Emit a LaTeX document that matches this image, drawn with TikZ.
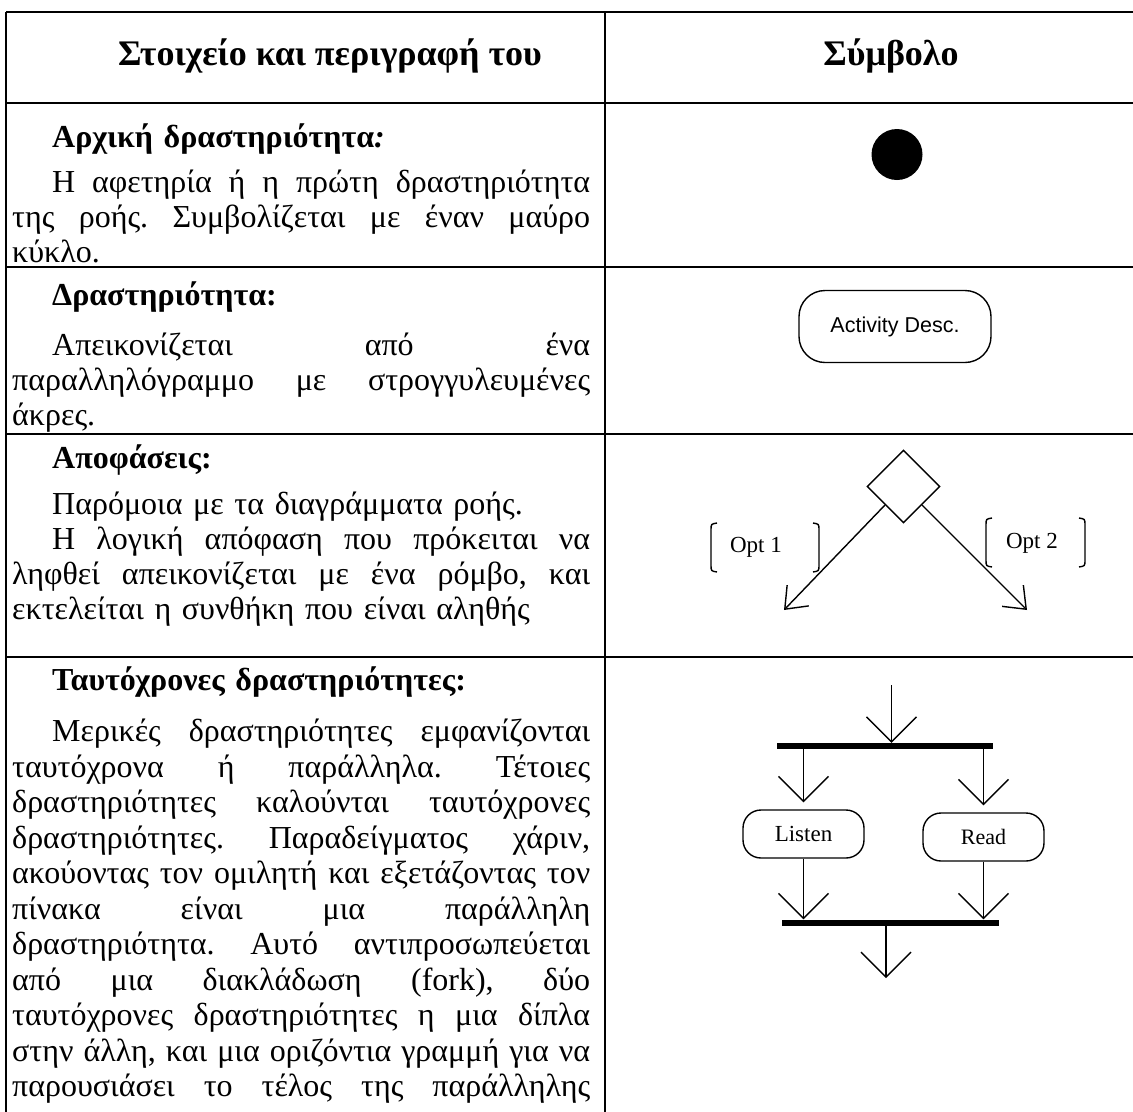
\documentclass[tikz,border=0pt]{standalone}
\usepackage{fontspec}
\setmainfont{Liberation Serif}
\newfontfamily\guisans{Liberation Sans}
\usetikzlibrary{arrows.meta,shapes.geometric}

% lines of the description column: justified full lines, short closing lines
\newlength\firstindent
\setlength\firstindent{40bp}
\newcommand\fullline[1]{\hbox to 578bp{\spaceskip=0.25em plus 1fil\relax #1}}
\newcommand\shortline[1]{\hbox{#1}}
\newcommand\titleline[1]{\hbox{\hskip\firstindent\bfseries #1}}
\newcommand\bodystyle{\fontsize{32bp}{35bp}\selectfont\frenchspacing\lineskiplimit=-100bp\relax}

\tikzset{
  rule/.style={line width=2.6bp},
  para/.style={anchor=base west, inner sep=0pt, text width=578bp, font=\bodystyle},
  heading/.style={anchor=base, inner sep=0pt,
                  font=\fontsize{36bp}{40bp}\selectfont\bfseries},
  uml/.style={line width=1.4bp},
  flow/.style={uml, -{Straight Barb[length=25bp,width=50bp,line width=1.4bp]}},
  branch/.style={uml, -{Straight Barb[length=19bp,width=30bp,line width=1.4bp]}},
  activity/.style={uml, draw, inner sep=0pt},
  bar/.style={fill=black, inner sep=0pt, minimum height=6bp},
  guard/.style={inner sep=0pt, font=\fontsize{23bp}{26bp}\selectfont},
  bracket/.style={uml},
}

\begin{document}
\begin{tikzpicture}[x=1bp,y=-1bp]
\useasboundingbox (0,0) rectangle (1133,1112);

% table rules
\draw[rule] (6,12) -- (1133,12);
\draw[rule] (6,103) -- (1133,103);
\draw[rule] (6,267) -- (1133,267);
\draw[rule] (6,434) -- (1133,434);
\draw[rule] (6,657) -- (1133,657);
\draw[rule] (6,12) -- (6,1112);
\draw[rule] (605,12) -- (605,1112);

% header
\node[heading] (hdesc) at (330,65) {Στοιχείο και περιγραφή του};
\node[heading] (hsym) at (891,65) {Σύμβολο};

% row 1: initial activity
\node[para] (t1) at (12,147) {%
  \titleline{Αρχική δραστηριότητα\textit{:}}
  \vskip 10bp
  \fullline{\hskip\firstindent Η αφετηρία ή η πρώτη δραστηριότητα}
  \fullline{της ροής. Συμβολίζεται με έναν μαύρο}
  \shortline{κύκλο.}};
\node[circle, fill=black, inner sep=0pt, minimum size=51bp] (start) at (897,154.5) {};

% row 2: activity
\node[para] (t2) at (12,305) {%
  \titleline{Δραστηριότητα:}
  \vskip 15bp
  \fullline{\hskip\firstindent Απεικονίζεται από ένα}
  \fullline{παραλληλόγραμμο με στρογγυλευμένες}
  \shortline{άκρες.}};
\node[activity, rounded corners=26bp, minimum width=192bp, minimum height=72bp,
      font=\guisans\fontsize{21.5bp}{24bp}\selectfont] (act) at (895,326.5) {Activity Desc.};

% row 3: decisions
\node[para] (t3) at (12,468) {%
  \titleline{Αποφάσεις:}
  \vskip 11bp
  \shortline{\hskip\firstindent Παρόμοια με τα διαγράμματα ροής.}
  \fullline{\hskip\firstindent Η λογική απόφαση που πρόκειται να}
  \fullline{ληφθεί απεικονίζεται με ένα ρόμβο, και}
  \shortline{εκτελείται η συνθήκη που είναι αληθής}};
\node[diamond, draw, uml, inner sep=0pt, minimum size=73bp] (dec) at (903.5,486.5) {};
\coordinate (opt1end) at (784,610);
\coordinate (opt2end) at (1027,610);
\draw[branch] (dec.south west) -- (opt1end);
\draw[branch] (dec.south east) -- (opt2end);
\node[guard] (opt1) at (756,547) {Opt 1};
\node[guard] (opt2) at (1032,543) {Opt 2};
\draw[bracket] (717,523) .. controls (711,524) .. (711,530) -- (711,565) .. controls (711,571) .. (717,572);
\draw[bracket] (813,523) .. controls (819,524) .. (819,530) -- (819,565) .. controls (819,571) .. (813,572);
\draw[bracket] (992,518) .. controls (986,519) .. (986,525) -- (986,560) .. controls (986,566) .. (992,567);
\draw[bracket] (1079,518) .. controls (1085,519) .. (1085,525) -- (1085,560) .. controls (1085,566) .. (1079,567);

% row 4: concurrent activities
\node[para] (t4) at (12,690) {%
  \baselineskip=35.5bp
  \titleline{Ταυτόχρονες δραστηριότητες:}
  \vskip 16bp
  \fullline{\hskip\firstindent Μερικές δραστηριότητες εμφανίζονται}
  \fullline{ταυτόχρονα ή παράλληλα. Τέτοιες}
  \fullline{δραστηριότητες καλούνται ταυτόχρονες}
  \fullline{δραστηριότητες. Παραδείγματος χάριν,}
  \fullline{ακούοντας τον ομιλητή και εξετάζοντας τον}
  \fullline{πίνακα είναι μια παράλληλη}
  \fullline{δραστηριότητα. Αυτό αντιπροσωπεύεται}
  \fullline{από μια διακλάδωση (fork), δύο}
  \fullline{ταυτόχρονες δραστηριότητες η μια δίπλα}
  \fullline{στην άλλη, και μια οριζόντια γραμμή για να}
  \fullline{παρουσιάσει το τέλος της παράλληλης}};

\coordinate (in) at (891.5,685);
\node[bar, minimum width=216bp] (fork) at (885,746) {};
\node[activity, rounded corners=18bp, minimum width=121bp, minimum height=48bp,
      font=\fontsize{23bp}{26bp}\selectfont] (listen) at (803.5,834) {Listen};
\node[activity, rounded corners=18bp, minimum width=121bp, minimum height=48bp,
      font=\fontsize{22bp}{26bp}\selectfont] (read) at (983.5,837) {Read};
\node[bar, minimum width=217bp] (join) at (890.5,922.5) {};
\coordinate (out) at (886,978);

\draw[flow] (in) -- (in |- fork.north);
\draw[flow, shorten >=7bp] (fork.south -| listen.north) -- (listen.north);
\draw[flow, shorten >=7bp] (fork.south -| read.north) -- (read.north);
\draw[flow] (listen.south) -- (listen.south |- join.north);
\draw[flow] (read.south) -- (read.south |- join.north);
\draw[flow] (join.south -| out) -- (out);
\end{tikzpicture}
\end{document}
